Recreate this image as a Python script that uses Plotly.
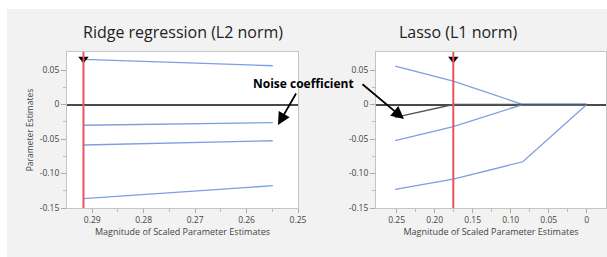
import plotly.graph_objects as go

# ---- data ----
ridge_x = [0.2917, 0.2549]
ridge_series = [
    [0.0655, 0.0562],
    [-0.0301, -0.0264],
    [-0.0587, -0.0525],
    [-0.1365, -0.1177],
]
ridge_selected = 0.2917

lasso_x = [0.252, 0.1755, 0.084, 0.0]
lasso_series = [
    [0.0558, 0.034, 0.0, 0.0],
    [-0.0525, -0.032, 0.0, 0.0],
    [-0.123, -0.108, -0.083, 0.0],
]
lasso_noise = [-0.0186, 0.0, 0.0, 0.0]
lasso_selected = 0.1755
marker_y = 0.066

ridge_ticks = [0.29, 0.28, 0.27, 0.26, 0.25]
lasso_ticks = [0.25, 0.20, 0.15, 0.10, 0.05, 0.0]
lasso_ticklabels = ["0.25", "0.20", "0.15", "0.10", "0.05", "0"]
y_ticks = [0.05, 0.0, -0.05, -0.10, -0.15]
y_ticklabels = ["0.05", "0", "-0.05", "-0.10", "-0.15"]

# ---- layout geometry ----
W, H = 607, 257
ML, MR, MT, MB = 67, 1, 52, 49
PW = W - ML - MR
PH = H - MT - MB

def px(x):
    return (x - ML) / PW

def py(y):
    return (H - MB - y) / PH

BLUE = "#7b9fe0"
RED = "#e8535e"
FONT = "Open Sans"

fig = go.Figure()

for s in ridge_series:
    fig.add_trace(go.Scatter(x=ridge_x, y=s, mode="lines",
                             line=dict(color=BLUE, width=1.3),
                             xaxis="x", yaxis="y", showlegend=False))
for s in lasso_series:
    fig.add_trace(go.Scatter(x=lasso_x, y=s, mode="lines",
                             line=dict(color=BLUE, width=1.3),
                             xaxis="x2", yaxis="y2", showlegend=False))
fig.add_trace(go.Scatter(x=lasso_x, y=lasso_noise, mode="lines",
                         line=dict(color="#555555", width=1.3),
                         xaxis="x2", yaxis="y2", showlegend=False))

# selected-model lines
fig.add_shape(type="line", xref="x", yref="paper", x0=ridge_selected, x1=ridge_selected,
              y0=0, y1=1, line=dict(color=RED, width=2))
fig.add_shape(type="line", xref="x2", yref="paper", x0=lasso_selected, x1=lasso_selected,
              y0=0, y1=1, line=dict(color=RED, width=2))
fig.add_trace(go.Scatter(x=[ridge_selected], y=[marker_y], mode="markers",
                         marker=dict(symbol="triangle-down", size=9, color="black"),
                         xaxis="x", yaxis="y", showlegend=False))
fig.add_trace(go.Scatter(x=[lasso_selected], y=[marker_y], mode="markers",
                         marker=dict(symbol="triangle-down", size=9, color="black"),
                         xaxis="x2", yaxis="y2", showlegend=False))

# white outer border strips
fig.add_shape(type="rect", xref="paper", yref="paper", x0=px(0), x1=px(W),
              y0=py(9), y1=py(0), fillcolor="white", line=dict(width=0), layer="below")
fig.add_shape(type="rect", xref="paper", yref="paper", x0=px(0), x1=px(7),
              y0=py(H), y1=py(0), fillcolor="white", line=dict(width=0), layer="below")

tickfont = dict(family=FONT, size=8.5, color="#444444")
common_x = dict(showline=True, mirror=True, linecolor="#c4c4c4", linewidth=1,
                ticks="outside", ticklen=4, tickcolor="#aaaaaa", showgrid=False,
                zeroline=False, tickfont=tickfont, automargin=False,
                title=dict(text="Magnitude of Scaled Parameter Estimates",
                           font=dict(family=FONT, size=9, color="#444444"), standoff=2))
common_y = dict(showline=True, mirror=True, linecolor="#c4c4c4", linewidth=1,
                ticks="outside", ticklen=5, tickcolor="#aaaaaa", showgrid=False,
                zeroline=True, zerolinecolor="#4a4a4a", zerolinewidth=1.5,
                range=[-0.15, 0.0761], tickvals=y_ticks, ticktext=y_ticklabels,
                tickfont=tickfont, automargin=False,
                minor=dict(ticks="outside", ticklen=3, tickcolor="#bbbbbb",
                           tickvals=[0.025, -0.025, -0.075, -0.125]))

fig.update_layout(
    width=W, height=H,
    margin=dict(l=ML, r=MR, t=MT, b=MB, autoexpand=False),
    paper_bgcolor="#f2f2f2", plot_bgcolor="white",
    xaxis=dict(common_x, domain=[0, px(298)], range=[0.2949, 0.25],
               tickvals=ridge_ticks, ticktext=[f"{v:.2f}" for v in ridge_ticks],
               minor=dict(ticks="outside", ticklen=3, tickcolor="#bbbbbb",
                          tickvals=[0.285, 0.275, 0.265, 0.255])),
    yaxis=dict(common_y, anchor="x",
               title=dict(text="Parameter Estimates",
                          font=dict(family=FONT, size=8.5, color="#444444"), standoff=4)),
    xaxis2=dict(common_x, domain=[px(376), 1], range=[0.2772, -0.0254],
                tickvals=lasso_ticks, ticktext=lasso_ticklabels, anchor="y2",
                minor=dict(ticks="outside", ticklen=3, tickcolor="#bbbbbb",
                           tickvals=[0.225, 0.175, 0.125, 0.075, 0.025])),
    yaxis2=dict(common_y, anchor="x2"),
    showlegend=False,
    font=dict(family=FONT),
)

ann_common = dict(xref="paper", yref="paper", showarrow=False,
                  xanchor="center", yanchor="middle")
fig.add_annotation(text="Ridge regression (L2 norm)", x=px(183), y=py(32),
                   font=dict(family=FONT, size=16, color="#222222"), **ann_common)
fig.add_annotation(text="Lasso (L1 norm)", x=px(458), y=py(32),
                   font=dict(family=FONT, size=16, color="#222222"), **ann_common)
fig.add_annotation(text="<b>Noise coefficient</b>", x=px(303), y=py(83),
                   font=dict(family=FONT, size=12, color="black"), **ann_common)
fig.add_annotation(text="", xref="x", yref="y", x=0.2539, y=-0.0297,
                   ax=19, ay=-33, showarrow=True, arrowhead=2, arrowsize=1.4,
                   arrowwidth=1.8, arrowcolor="black")
fig.add_annotation(text="", xref="x2", yref="y2", x=0.2404, y=-0.021,
                   ax=-43, ay=-36, showarrow=True, arrowhead=2, arrowsize=1.4,
                   arrowwidth=1.8, arrowcolor="black")

fig.write_html("out.html", config={"displayModeBar": False},
               post_script="document.body.style.margin='0';document.body.style.padding='0';")
